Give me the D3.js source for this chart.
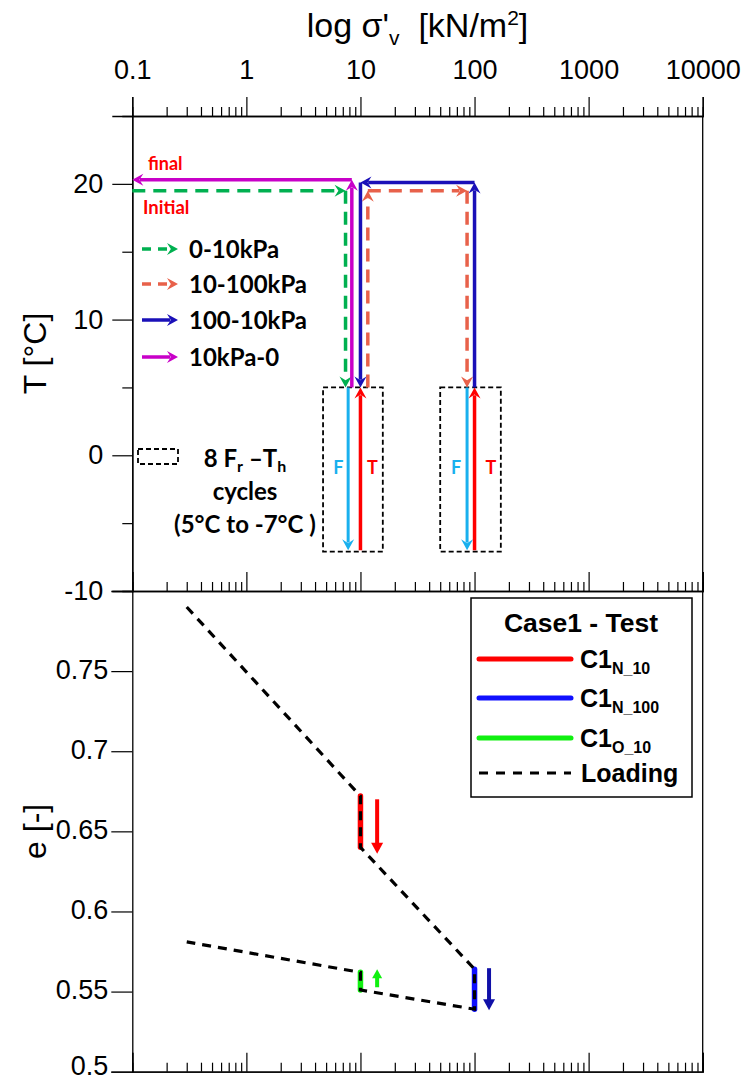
<!DOCTYPE html>
<html>
<head>
<meta charset="utf-8">
<script src="https://cdn.jsdelivr.net/npm/d3@7"></script>
<style>
  body { margin: 0; background: #fff; }
  svg { display: block; }
</style>
</head>
<body>
<svg id="chart" width="749" height="1081"></svg>
<script>
// ---- axis ticks ----
const stressTicks = [0.1, 1, 10, 100, 1000, 10000];
const tempTicks = [-10, 0, 10, 20];
const tempMinorTicks = [-5, 5, 15];
const voidTicks = [0.5, 0.55, 0.6, 0.65, 0.7, 0.75];

// ---- top panel: stress paths, segments [[s, T], [s, T]], arrow at the end of each ----
const path0to10 = [[[0.1, 19.5], [7.4, 19.5]], [[7.4, 19.5], [7.4, 5]]];
const path10to100 = [[[11.6, 5], [11.6, 19.5]], [[11.6, 19.5], [86, 19.5]], [[86, 19.5], [86, 5]]];
const path100to10 = [[[100, 5], [100, 20.1]], [[100, 20.1], [10, 20.1]], [[10, 20.1], [10, 5]]];
const path10to0 = [[[8.4, 5], [8.4, 20.3]], [[8.4, 20.3], [0.1, 20.3]]];

// freeze-thaw cycles (5°C to -7°C)
const cycleBoxes = [[4.7, 15.7], [50, 170]];
const cycleBoxT = [5, -7.1];
const freezeStress = [7.8, 86];
const thawStress = [10, 100];
const cycleT = [5, -7];
const freezeLabelStress = [6.4, 69];
const thawLabelStress = [12.7, 139];
const cycleLabelT = -0.9;

// ---- bottom panel: void ratio ----
const loadingPath = [[0.3, 0.79], [10, 0.672], [10, 0.64], [100, 0.564], [100, 0.539], [10, 0.551], [10, 0.562], [0.3, 0.581]];
const barN10 = [[10, 0.672], [10, 0.64]];
const barN100 = [[100, 0.564], [100, 0.539]];
const barO10 = [[10, 0.562], [10, 0.551]];
const arrowN10 = [[14, 0.670], [14, 0.636]];
const arrowN100 = [[134, 0.5646], [134, 0.5384]];
const arrowO10 = [[14, 0.5527], [14, 0.5639]];

const C = {
  green: "#00b050", orange: "#e8614a", navy: "#1a10b8", magenta: "#c800c8",
  sky: "#19b0ee", red: "#ff0000", blue: "#1010ff", lime: "#10f010", darkBlue: "#1010a8"
};

const svg = d3.select("#chart");
const axisFont = "'Liberation Sans', Arial, sans-serif";
const boldFont = "Lato, 'Open Sans', sans-serif";

const x = d3.scaleLog().domain([0.1, 10000]).range([132.3, 702.7]);
const yT = d3.scaleLinear().domain([-10, 25]).range([591, 116]);
const yE = d3.scaleLinear().domain([0.5, 0.8]).range([1071.7, 591]);

const minorX = x.ticks().filter(v => !stressTicks.some(t => Math.abs(t - v) < 1e-9));

function styleAxis(g) {
  g.selectAll("path").attr("stroke", "#000").attr("stroke-width", 1.3);
  g.selectAll("line").attr("stroke", "#000").attr("stroke-width", 1.2);
  g.selectAll("text").attr("font-family", axisFont).attr("font-size", 27).attr("fill", "#000");
}

// top x axis with labels
const topAxis = svg.append("g").attr("transform", "translate(0,116)");
topAxis.append("g").call(d3.axisTop(x).tickValues(minorX).tickSize(9).tickFormat("")).call(styleAxis);
topAxis.append("g").call(d3.axisTop(x).tickValues(stressTicks).tickSize(19).tickPadding(18)
  .tickFormat(d => d < 1 ? "0.1" : d3.format("d")(d))).call(styleAxis);

// inner x axes (ticks pointing up)
[591, 1071.7].forEach(yy => {
  const g = svg.append("g").attr("transform", `translate(0,${yy})`);
  g.append("g").call(d3.axisTop(x).tickValues(minorX).tickSize(9).tickFormat("")).call(styleAxis);
  g.append("g").call(d3.axisTop(x).tickValues(stressTicks).tickSize(19).tickFormat("")).call(styleAxis);
});

// left axes
const leftT = svg.append("g").attr("transform", "translate(132.3,0)");
leftT.append("g").call(d3.axisLeft(yT).tickValues(tempMinorTicks).tickSize(10).tickFormat("")).call(styleAxis);
leftT.append("g").call(d3.axisLeft(yT).tickValues(tempTicks).tickSize(20).tickPadding(9)
  .tickFormat(d => d < 0 ? "-" + Math.abs(d) : String(d))).call(styleAxis);

const leftE = svg.append("g").attr("transform", "translate(132.3,0)");
leftE.append("g").call(d3.axisLeft(yE).tickValues(voidTicks).tickSize(21).tickPadding(3)
  .tickFormat(d => String(+d.toFixed(2)))).call(styleAxis);
leftE.selectAll("text").attr("dy", d => d === 0.5 ? "0.1em" : "0.26em");

// right border
svg.append("line").attr("x1", x(10000)).attr("x2", x(10000)).attr("y1", 116).attr("y2", 1071.7)
  .attr("stroke", "#000").attr("stroke-width", 1.3);

// axis titles
const title = svg.append("text").attr("x", (x.range()[0] + x.range()[1]) / 2).attr("y", 37)
  .attr("text-anchor", "middle").attr("font-family", axisFont).attr("font-size", 34);
title.append("tspan").text("log σ'");
title.append("tspan").attr("font-size", 21).attr("dy", 8).text("v");
title.append("tspan").attr("dy", -8).text("\u00a0 [kN/m");
title.append("tspan").attr("font-size", 21).attr("dy", -12).text("2");
title.append("tspan").attr("dy", 12).text("]");

svg.append("text").attr("transform", `translate(46,${(116 + 591) / 2}) rotate(-90)`)
  .attr("text-anchor", "middle").attr("font-family", axisFont).attr("font-size", 32).text("T [°C]");
svg.append("text").attr("transform", `translate(46,${(591 + 1071.7) / 2}) rotate(-90)`)
  .attr("text-anchor", "middle").attr("font-family", axisFont).attr("font-size", 32).text("e [-]");

// arrow helper: line with head at p1
function arrow(g, p0, p1, color, o = {}) {
  const [x0, y0] = p0, [x1, y1] = p1;
  const dx = x1 - x0, dy = y1 - y0, L = Math.hypot(dx, dy);
  const ux = dx / L, uy = dy / L, nx = -uy, ny = ux;
  const len = o.len || 11, w = o.w || 6, notch = o.notch == null ? 0.35 : o.notch;
  g.append("line")
    .attr("x1", x0).attr("y1", y0)
    .attr("x2", x1 - ux * len * 0.7).attr("y2", y1 - uy * len * 0.7)
    .attr("stroke", color).attr("stroke-width", o.width || 3.5)
    .attr("stroke-dasharray", o.dash || null);
  const bx = x1 - ux * len, by = y1 - uy * len;
  const mx = x1 - ux * len * (1 - notch), my = y1 - uy * len * (1 - notch);
  g.append("path")
    .attr("d", `M${x1},${y1}L${bx + nx * w},${by + ny * w}L${mx},${my}L${bx - nx * w},${by - ny * w}Z`)
    .attr("fill", color);
}

const px = p => [x(p[0]), yT(p[1])];
const topG = svg.append("g");

// freeze-thaw boxes
cycleBoxes.forEach(b => {
  topG.append("rect")
    .attr("x", x(b[0])).attr("y", yT(cycleBoxT[0]))
    .attr("width", x(b[1]) - x(b[0])).attr("height", yT(cycleBoxT[1]) - yT(cycleBoxT[0]))
    .attr("fill", "none").attr("stroke", "#000").attr("stroke-width", 1.8).attr("stroke-dasharray", "5,3");
});

freezeStress.forEach(s => arrow(topG, px([s, cycleT[0]]), px([s, cycleT[1]]), C.sky, { width: 3 }));
thawStress.forEach(s => arrow(topG, px([s, cycleT[1]]), px([s, cycleT[0]]), C.red, { width: 3.5 }));
freezeLabelStress.forEach(s => topG.append("text").attr("x", x(s)).attr("y", yT(cycleLabelT) + 6)
  .attr("text-anchor", "middle").attr("font-family", boldFont).attr("font-weight", 700)
  .attr("font-size", 18).attr("fill", C.sky).text("F"));
thawLabelStress.forEach(s => topG.append("text").attr("x", x(s)).attr("y", yT(cycleLabelT) + 6)
  .attr("text-anchor", "middle").attr("font-family", boldFont).attr("font-weight", 700)
  .attr("font-size", 18).attr("fill", C.red).text("T"));

// stress paths
const pathStyles = [
  [path0to10, C.green, "13,8"],
  [path10to100, C.orange, "13,8"],
  [path10to0, C.magenta, null],
  [path100to10, C.navy, null]
];
pathStyles.forEach(([segs, color, dash]) => {
  segs.forEach(s => arrow(topG, px(s[0]), px(s[1]), color, { dash: dash, width: 3.5 }));
});

// top legend
const legendItems = [
  ["0-10kPa", C.green, "9,7"],
  ["10-100kPa", C.orange, "9,7"],
  ["100-10kPa", C.navy, null],
  ["10kPa-0", C.magenta, null]
];
const legendY = [249, 284, 320, 357];
legendItems.forEach((d, i) => {
  arrow(topG, [142, legendY[i]], [178, legendY[i]], d[1], { dash: d[2], width: 3.5 });
  topG.append("text").attr("x", 189).attr("y", legendY[i] + 8.5)
    .attr("font-family", boldFont).attr("font-weight", 700).attr("font-size", 24).text(d[0]);
});

topG.append("text").attr("x", 148).attr("y", 170).attr("font-family", boldFont).attr("font-weight", 700)
  .attr("font-size", 18).attr("fill", C.red).text("final");
topG.append("text").attr("x", 143).attr("y", 214).attr("font-family", boldFont).attr("font-weight", 700)
  .attr("font-size", 18.5).attr("fill", C.red).text("Initial");

topG.append("rect").attr("x", 138).attr("y", 449).attr("width", 40).attr("height", 15)
  .attr("fill", "none").attr("stroke", "#000").attr("stroke-width", 1.8).attr("stroke-dasharray", "5,3");
const cyc = topG.append("text").attr("font-family", boldFont).attr("font-weight", 700).attr("font-size", 24)
  .attr("text-anchor", "middle");
const l1 = cyc.append("tspan").attr("x", 245).attr("y", 467);
l1.append("tspan").text("8 F");
l1.append("tspan").attr("font-size", 16).attr("dy", 5).text("r");
l1.append("tspan").attr("dy", -5).text(" \u2013T");
l1.append("tspan").attr("font-size", 16).attr("dy", 5).text("h");
cyc.append("tspan").attr("x", 245).attr("y", 500).text("cycles");
cyc.append("tspan").attr("x", 245).attr("y", 533).text("(5°C to -7°C )");

// ---- bottom panel ----
const bot = svg.append("g");
const pe = p => [x(p[0]), yE(p[1])];
const line = d3.line().x(d => x(d[0])).y(d => yE(d[1]));

[[barN10, C.red], [barN100, C.blue], [barO10, C.lime]].forEach(([b, color]) => {
  bot.append("path").attr("d", line(b)).attr("stroke", color).attr("stroke-width", 5.5)
    .attr("stroke-linecap", "round").attr("fill", "none");
});
bot.append("path").attr("d", line(loadingPath)).attr("fill", "none").attr("stroke", "#000")
  .attr("stroke-width", 3.2).attr("stroke-dasharray", "9,7");

arrow(bot, pe(arrowN10[0]), pe(arrowN10[1]), C.red, { width: 4, len: 11, w: 6, notch: 0 });
arrow(bot, pe(arrowN100[0]), pe(arrowN100[1]), C.darkBlue, { width: 4, len: 11, w: 6, notch: 0 });
arrow(bot, pe(arrowO10[0]), pe(arrowO10[1]), C.lime, { width: 4, len: 9, w: 5, notch: 0 });

// bottom legend
const lg = svg.append("g");
lg.append("rect").attr("x", 471).attr("y", 598).attr("width", 221).attr("height", 199)
  .attr("fill", "#fff").attr("stroke", "#000").attr("stroke-width", 1.5);
lg.append("text").attr("x", 581).attr("y", 632).attr("text-anchor", "middle")
  .attr("font-family", axisFont).attr("font-weight", 700).attr("font-size", 26.5).text("Case1 - Test");
const legendSeries = [["N_10", C.red], ["N_100", C.blue], ["O_10", C.lime]];
const legendRowY = [659, 698, 738];
legendSeries.forEach((d, i) => {
  lg.append("line").attr("x1", 479).attr("x2", 571).attr("y1", legendRowY[i]).attr("y2", legendRowY[i])
    .attr("stroke", d[1]).attr("stroke-width", 5).attr("stroke-linecap", "round");
  const t = lg.append("text").attr("x", 580).attr("y", legendRowY[i] + 9)
    .attr("font-family", axisFont).attr("font-weight", 700).attr("font-size", 25);
  t.append("tspan").text("C1");
  t.append("tspan").attr("font-size", 16).attr("dy", 6).text(d[0]);
});
lg.append("line").attr("x1", 479).attr("x2", 571).attr("y1", 773).attr("y2", 773)
  .attr("stroke", "#000").attr("stroke-width", 3).attr("stroke-dasharray", "9,8");
lg.append("text").attr("x", 581).attr("y", 782).attr("font-family", axisFont).attr("font-weight", 700)
  .attr("font-size", 25).text("Loading");
</script>
</body>
</html>
